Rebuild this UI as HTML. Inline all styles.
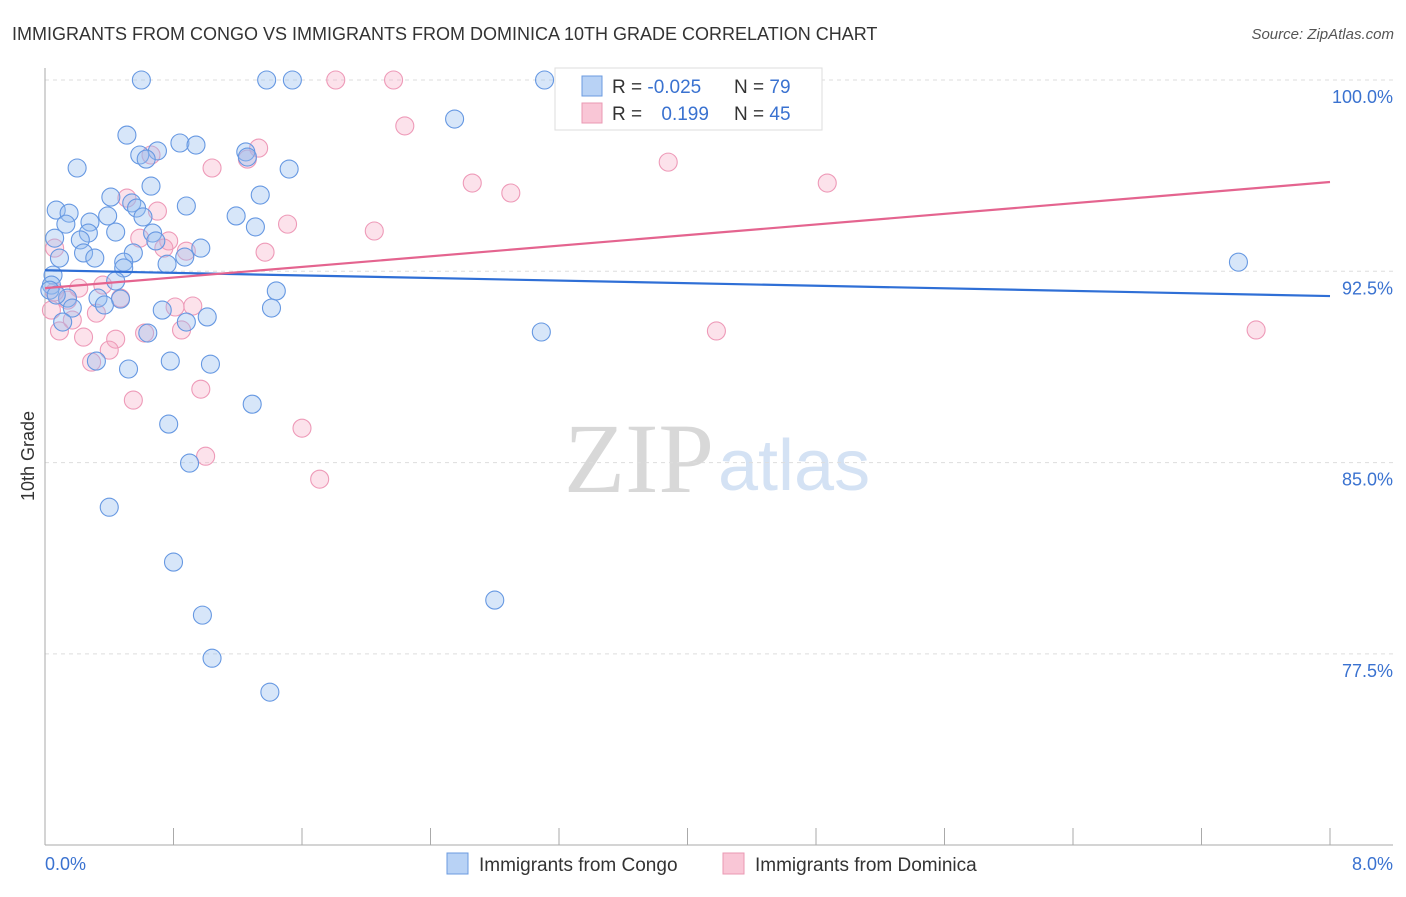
<!DOCTYPE html>
<html><head><meta charset="utf-8"><style>
body{margin:0;background:#fff;font-family:"Liberation Sans",sans-serif;}
</style></head><body>
<svg width="1406" height="892" xmlns="http://www.w3.org/2000/svg" style="font-family:'Liberation Sans',sans-serif">
<text x="12" y="40" font-size="18" fill="#333">IMMIGRANTS FROM CONGO VS IMMIGRANTS FROM DOMINICA 10TH GRADE CORRELATION CHART</text>
<text x="1394" y="39" font-size="15" fill="#555" font-style="italic" text-anchor="end">Source: ZipAtlas.com</text>
<g>
<text x="714" y="492" font-size="100" fill="#d8d8d8" text-anchor="end" font-family="Liberation Serif">ZIP</text>
<text x="718" y="490" font-size="72" fill="#d4e2f4">atlas</text>
</g>
<g id="grid"></g>
<g id="axes"></g>
<g id="pts"></g>
<g id="lines"></g>
<text transform="translate(34,456) rotate(-90)" font-size="18" fill="#333" text-anchor="middle">10th Grade</text>
<text x="45" y="870" font-size="18" fill="#3a72d0">0.0%</text>
<text x="1393" y="870" font-size="18" fill="#3a72d0" text-anchor="end">8.0%</text>
<g>
<rect x="555" y="68" width="267" height="62" fill="#fff" stroke="#ddd"/>
<rect x="582" y="76" width="20" height="20" fill="#b8d2f5" stroke="#6b9be0"/>
<rect x="582" y="103" width="20" height="20" fill="#f9c6d6" stroke="#ea98b3"/>
<text x="612" y="93" font-size="19" fill="#333">R = <tspan fill="#3a72d0">-0.025</tspan></text>
<text x="734" y="93" font-size="19" fill="#333">N = <tspan fill="#3a72d0">79</tspan></text>
<text x="612" y="120" font-size="19" fill="#333">R = <tspan fill="#3a72d0" dx="14">0.199</tspan></text>
<text x="734" y="120" font-size="19" fill="#333">N = <tspan fill="#3a72d0">45</tspan></text>
</g>
<g>
<rect x="447" y="853" width="21" height="21" fill="#b8d2f5" stroke="#6b9be0"/>
<text x="479" y="871" font-size="19" fill="#333">Immigrants from Congo</text>
</g>
<g>
<rect x="723" y="853" width="21" height="21" fill="#f9c6d6" stroke="#ea98b3"/>
<text x="755" y="871" font-size="19" fill="#333">Immigrants from Dominica</text>
</g>
</svg>
<script>
const yTicks=[100,92.5,85,77.5];
const yTickLabels=["100.0%","92.5%","85.0%","77.5%"];
const xTicks=[0,0.8,1.6,2.4,3.2,4,4.8,5.6,6.4,7.2,8];
const congoX=[0.60,1.38,1.54,3.11,2.55,0.51,0.59,0.70,0.84,0.94,0.63,0.20,1.52,0.66,0.41,1.34,0.07,0.15,0.54,0.57,0.88,0.39,0.61,1.19,0.13,0.28,0.27,0.44,1.31,0.06,0.22,0.67,0.69,0.97,0.24,0.55,0.49,0.31,0.76,0.87,0.09,7.43,0.49,0.05,0.04,0.44,1.44,0.14,0.33,0.47,0.37,0.17,0.73,1.41,1.01,0.11,0.88,0.64,3.09,0.32,0.78,1.03,0.52,1.29,0.77,0.90,0.40,2.80,0.80,0.98,1.04,1.40,1.25,1.26,0.03,0.07];
const congoY=[100,100,100,100,98.47,97.84,97.06,97.22,97.53,97.45,96.90,96.55,96.51,95.84,95.41,95.49,94.90,94.78,95.18,94.98,95.06,94.67,94.63,94.67,94.35,94.43,94.00,94.04,94.24,93.80,93.73,94.00,93.69,93.41,93.22,93.22,92.86,93.02,92.78,93.06,93.02,92.86,92.63,92.35,91.96,92.12,91.73,91.45,91.45,91.41,91.18,91.06,90.98,91.06,90.71,90.51,90.51,90.08,90.12,88.98,88.98,88.86,88.67,87.29,86.51,84.98,83.25,79.61,81.10,79.02,77.33,76.00,97.18,96.98,91.76,91.57];
const domX=[1.81,2.17,2.24,1.33,1.26,1.04,0.66,3.88,2.66,2.90,4.87,0.51,0.70,1.51,2.05,0.59,0.77,0.06,0.88,0.74,1.37,0.21,0.36,0.47,0.14,0.81,0.92,0.32,0.17,0.85,4.18,7.54,0.09,0.62,0.24,0.44,0.40,0.29,0.97,0.55,1.60,1.00,1.71,0.04,0.06];
const domY=[100,100,98.20,97.33,96.90,96.55,97.06,96.78,95.96,95.57,95.96,95.37,94.86,94.35,94.08,93.80,93.69,93.41,93.29,93.41,93.25,91.84,91.96,91.45,91.37,91.10,91.14,90.86,90.59,90.20,90.16,90.20,90.16,90.08,89.92,89.84,89.41,88.94,87.88,87.45,86.35,85.25,84.35,90.98,91.69];
const congoTrend=[92.54,91.53];
const domTrend=[91.84,96.0];
const NS="http://www.w3.org/2000/svg";
const X=v=>45+v/8*1285;
const Y=v=>80+(100-v)/7.5*191.3;
function mk(t,a,p){const e=document.createElementNS(NS,t);for(const k in a)e.setAttribute(k,a[k]);document.getElementById(p).appendChild(e);return e;}
yTicks.forEach((t,i)=>{
 const l=mk('line',{x1:45,x2:1393,y1:Y(t),y2:Y(t),stroke:'#ddd','stroke-dasharray':'4,4'},'grid');
 
 
 const tx=mk('text',{x:1393,y:Y(t)+23,'font-size':18,fill:'#3a72d0','text-anchor':'end'},'grid');
 tx.textContent=yTickLabels[i];
 
 
});
const ax=mk('line',{x1:45,x2:45,y1:68,y2:845,stroke:'#aaa'},'axes');


const bx=mk('line',{x1:45,x2:1393,y1:845,y2:845,stroke:'#aaa'},'axes');


xTicks.forEach(t=>{
 const l=mk('line',{x1:X(t),x2:X(t),y1:828,y2:845,stroke:'#aaa'},'axes');
 
 
});
domX.forEach((v,i)=>{
 const c=mk('circle',{cx:X(v),cy:Y(domY[i]),r:9,fill:'rgba(245,165,192,0.32)',stroke:'#ee9ab8','stroke-width':1.1},'pts');
 
 
});
congoX.forEach((v,i)=>{
 const c=mk('circle',{cx:X(v),cy:Y(congoY[i]),r:9,fill:'rgba(150,190,240,0.38)',stroke:'#6698e2','stroke-width':1.1},'pts');
 
 
});
const l1=mk('line',{x1:X(0),x2:X(8),y1:Y(congoTrend[0]),y2:Y(congoTrend[1]),stroke:'#2f6fd6','stroke-width':2.2},'lines');


const l2=mk('line',{x1:X(0),x2:X(8),y1:Y(domTrend[0]),y2:Y(domTrend[1]),stroke:'#e4648f','stroke-width':2.2},'lines');


</script>
</body></html>
